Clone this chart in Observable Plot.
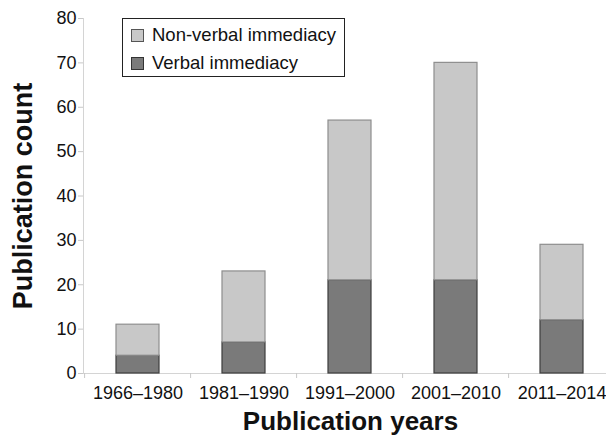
<!DOCTYPE html>
<html>
<head>
<meta charset="utf-8">
<script src="https://cdn.jsdelivr.net/npm/d3@7"></script>
<script src="https://cdn.jsdelivr.net/npm/@observablehq/plot@0.6"></script>
<style>
  html, body { margin: 0; padding: 0; background: #fff; overflow: hidden; }
  #wrap { position: relative; width: 606px; height: 435px; overflow: hidden; }
  #legend {
    position: absolute; left: 122px; top: 18px; width: 221px; height: 57px;
    border: 1px solid #222; background: #fff;
    font-family: "Liberation Sans", Arial, sans-serif; font-size: 18.5px; color: #111;
  }
  #legend .row { position: absolute; left: 8px; height: 20px; line-height: 20px; white-space: nowrap; }
  #legend .sw { display: inline-block; width: 11px; height: 11px; vertical-align: -1px; margin-right: 8px; }
</style>
</head>
<body>
<div id="wrap"></div>
<script>
const categories = ["1966–1980", "1981–1990", "1991–2000", "2001–2010", "2011–2014"];
const verbal = [4, 7, 21, 21, 12];
const nonVerbal = [7, 16, 36, 49, 17];
const seriesNames = ["Verbal immediacy", "Non-verbal immediacy"];
const yTicks = [0, 10, 20, 30, 40, 50, 60, 70, 80];

const fills = {"Verbal immediacy": "#7a7a7a", "Non-verbal immediacy": "#c8c8c8"};
const strokes = {"Verbal immediacy": "#3c3c3c", "Non-verbal immediacy": "#8e8e8e"};

const rows = [];
categories.forEach((c, i) => {
  rows.push({period: c, series: seriesNames[0], count: verbal[i]});
  rows.push({period: c, series: seriesNames[1], count: nonVerbal[i]});
});

const W = 606, H = 435, mL = 83, mR = -11, mT = 18, mB = 62;
const step = (W - mL - mR) / categories.length;
const font = "'Liberation Sans', Arial, sans-serif";

const chart = Plot.plot({
  width: W, height: H,
  marginLeft: mL, marginRight: mR, marginTop: mT, marginBottom: mB,
  style: {fontFamily: font, color: "#111", background: "transparent", overflow: "visible"},
  x: {domain: categories, paddingInner: 0.59, paddingOuter: 0.295, axis: null},
  y: {domain: [0, 80], axis: null},
  color: {type: "identity"},
  marks: [
    Plot.frame({anchor: "left", stroke: "#d4d4d4"}),
    Plot.ruleY([0], {stroke: "#d4d4d4"}),
    Plot.axisY({ticks: yTicks, tickSize: 5, tickPadding: 2, stroke: "#c8c8c8", fill: "#111", fontSize: 18, label: null}),
    Plot.axisX({tickSize: 5, stroke: "#c8c8c8", dx: -step / 2, tickFormat: () => "", label: null}),
    Plot.axisX({tickSize: 0, tickPadding: 13, fill: "#111", fontSize: 18, label: null}),
    Plot.barY(rows, Plot.stackY({
      x: "period", y: "count",
      fill: d => fills[d.series], stroke: d => strokes[d.series], strokeWidth: 1.2
    })),
    Plot.text(["Publication years"], {frameAnchor: "bottom", text: d => d, dy: 48, lineAnchor: "middle",
      textAnchor: "middle", fontSize: 26, fontWeight: "bold", fill: "#111"}),
    Plot.text(["Publication count"], {frameAnchor: "left", text: d => d, dx: -60, rotate: -90, lineAnchor: "middle",
      textAnchor: "middle", fontSize: 27, fontWeight: "bold", fill: "#111"})
  ]
});

const wrap = document.getElementById("wrap");
wrap.appendChild(chart);

const legend = document.createElement("div");
legend.id = "legend";
const legendOrder = [seriesNames[1], seriesNames[0]];
legendOrder.forEach((s, i) => {
  const row = document.createElement("div");
  row.className = "row";
  row.style.top = (i === 0 ? 6 : 34) + "px";
  const sw = document.createElement("span");
  sw.className = "sw";
  sw.style.background = fills[s];
  sw.style.border = "1px solid " + (i === 0 ? "#555" : "#333");
  row.appendChild(sw);
  row.appendChild(document.createTextNode(s));
  legend.appendChild(row);
});
wrap.appendChild(legend);
</script>
</body>
</html>
